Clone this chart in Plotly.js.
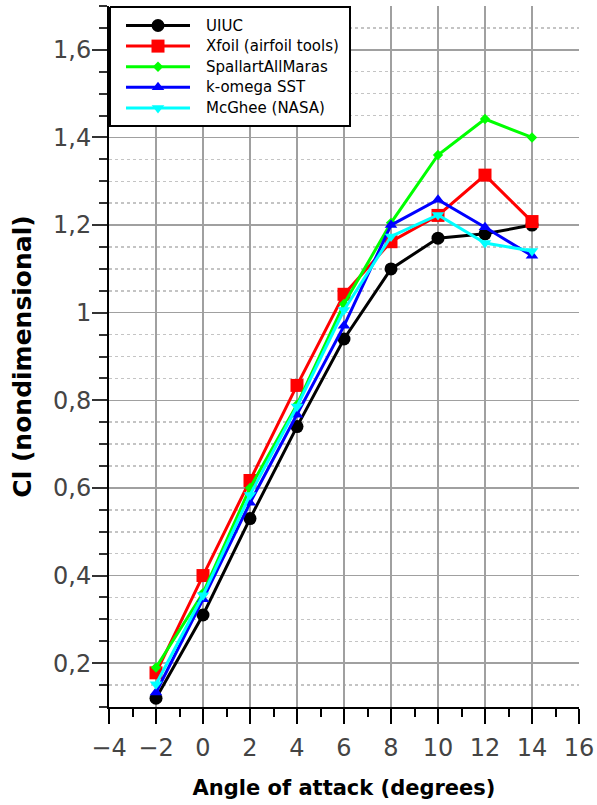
<!DOCTYPE html>
<html>
<head>
<meta charset="utf-8">
<script src="https://cdn.plot.ly/plotly-3.0.1.min.js"></script>
<style>html,body{margin:0;padding:0;background:#fff;}#chart{width:597px;height:805px;}</style>
</head>
<body>
<div id="chart"></div>
<script>
const angle = [-2, 0, 2, 4, 6, 8, 10, 12, 14];
const seriesNames = ["UIUC", "Xfoil (airfoil tools)", "SpallartAllMaras", "k-omega SST", "McGhee (NASA)"];
const uiuc = [0.12, 0.31, 0.53, 0.74, 0.94, 1.10, 1.17, 1.18, 1.20];
const xfoil = [0.178, 0.40, 0.617, 0.834, 1.042, 1.162, 1.222, 1.314, 1.208];
const spalart = [0.19, 0.36, 0.60, 0.79, 1.02, 1.205, 1.36, 1.442, 1.40];
const komega = [0.133, 0.346, 0.566, 0.767, 0.97, 1.20, 1.258, 1.195, 1.13];
const mcghee = [0.152, 0.355, 0.584, 0.786, 1.006, 1.174, 1.223, 1.159, 1.141];
const xTickVals = [-4, -2, 0, 2, 4, 6, 8, 10, 12, 14, 16];
const yTickVals = [0.2, 0.4, 0.6, 0.8, 1, 1.2, 1.4, 1.6];

const colors = ["#000000", "#ff0000", "#00ff00", "#0000ff", "#00ffff"];
const symbols = ["circle", "square", "diamond", "triangle-up", "triangle-down"];
const sizes = [13, 13, 8, 11, 11];
const ys = [uiuc, xfoil, spalart, komega, mcghee];

const traces = ys.map((y, i) => ({
  x: angle, y: y, name: seriesNames[i], type: "scatter", mode: "lines+markers",
  line: {color: colors[i], width: 3},
  marker: {color: colors[i], symbol: symbols[i], size: sizes[i]},
  showlegend: false
}));

// Custom legend drawn on a hidden overlay axis pair measured in pixels from the plot's top-left
const M = {l: 109, r: 18, t: 6, b: 98};
const W = 597, H = 805;
const plotW = W - M.l - M.r, plotH = H - M.t - M.b;
const leg = {x0: 1, x1: 241, y0: 1, y1: 120, lineX0: 17, lineX1: 81, textX: 95, row0: 19.5, rowStep: 20.6};
traces.push({x: [leg.x0, leg.x1, leg.x1, leg.x0, leg.x0], y: [leg.y0, leg.y0, leg.y1, leg.y1, leg.y0],
  xaxis: "x2", yaxis: "y2", mode: "lines", fill: "toself", fillcolor: "#fff",
  line: {color: "#000", width: 2}, showlegend: false, hoverinfo: "skip"});
const legendAnn = [];
seriesNames.forEach((nm, i) => {
  const ry = leg.row0 + i * leg.rowStep;
  traces.push({x: [leg.lineX0, leg.lineX1], y: [ry, ry], xaxis: "x2", yaxis: "y2", mode: "lines",
    line: {color: colors[i], width: 3}, showlegend: false, hoverinfo: "skip"});
  traces.push({x: [(leg.lineX0 + leg.lineX1) / 2], y: [ry], xaxis: "x2", yaxis: "y2", mode: "markers",
    marker: {color: colors[i], symbol: symbols[i], size: sizes[i]}, showlegend: false, hoverinfo: "skip"});
  legendAnn.push({xref: "x2", yref: "y2", x: leg.textX, y: ry, text: nm, showarrow: false,
    xanchor: "left", yanchor: "middle", font: {family: "DejaVu Sans", size: 15, color: "#000"}});
});

const tickFont = {family: "DejaVu Sans", size: 24, color: "#444"};
const layout = {
  width: W, height: H,
  margin: M,
  separators: ",.",
  paper_bgcolor: "#fff", plot_bgcolor: "#fff",
  showlegend: false,
  xaxis: {
    range: [-4, 16], tickvals: xTickVals, ticks: "outside", ticklen: 15, tickwidth: 2, tickcolor: "#000",
    showline: true, linecolor: "#000", linewidth: 2, zeroline: false,
    showgrid: true, gridcolor: "#a0a0a0", gridwidth: 1.5,
    minor: {dtick: 1, tick0: 0, ticks: "outside", ticklen: 8, tickwidth: 2, tickcolor: "#000", showgrid: false},
    tickfont: tickFont, ticklabelstandoff: 3,
    title: {text: "<b>Angle of attack (degrees)</b>", font: {family: "DejaVu Sans", size: 21, color: "#000"}, standoff: 20}
  },
  yaxis: {
    range: [0.1, 1.7], tickvals: yTickVals, ticks: "outside", ticklen: 15, tickwidth: 2, tickcolor: "#333",
    showline: true, linecolor: "#000", linewidth: 2, zeroline: false,
    showgrid: true, gridcolor: "#a0a0a0", gridwidth: 1.5,
    minor: {dtick: 0.05, tick0: 0, ticks: "outside", ticklen: 8, tickwidth: 2, tickcolor: "#333",
      showgrid: true, gridcolor: "#c4c4c4", gridwidth: 1.5, griddash: "dot"},
    tickfont: tickFont, ticklabelstandoff: -4,
    title: {text: "<b>Cl (nondimensional)</b>", font: {family: "DejaVu Sans", size: 25, color: "#000"}, standoff: 14}
  },
  xaxis2: {overlaying: "x", anchor: "y2", range: [0, plotW], visible: false, fixedrange: true},
  yaxis2: {overlaying: "y", anchor: "x2", range: [plotH, 0], visible: false, fixedrange: true},
  annotations: legendAnn
};
Plotly.newPlot("chart", traces, layout, {displayModeBar: false, staticPlot: true});
</script>
</body>
</html>
